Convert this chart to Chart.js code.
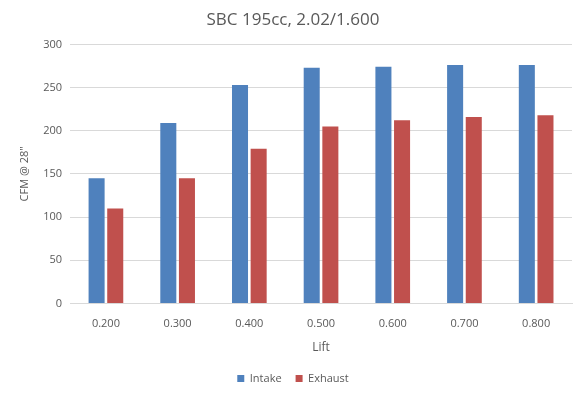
<!DOCTYPE html>
<html>
<head>
<meta charset="utf-8">
<script src="https://cdn.jsdelivr.net/npm/chart.js@4"></script>
<style>
  html, body { margin:0; padding:0; background:#fff; }
  #wrap { width:580px; height:400px; }
</style>
</head>
<body>
<div id="wrap"><canvas id="c"></canvas></div>
<script>
/* SBC 195cc flow chart */
const lifts = ['0.200','0.300','0.400','0.500','0.600','0.700','0.800'];
const intake = [145, 209, 253, 273, 274, 276, 276];
const exhaust = [110, 145, 179, 205, 212, 216, 218];

Chart.defaults.font.family = '"Open Sans", "Liberation Sans", Arial';
Chart.defaults.font.size = 11;
Chart.defaults.color = '#595959';

new Chart(document.getElementById('c'), {
  type: 'bar',
  data: { labels: lifts, datasets: [
    { label: 'Intake', data: intake, backgroundColor: '#4f81bd' },
    { label: 'Exhaust', data: exhaust, backgroundColor: '#c0504d' }
  ]},
  options: {
    responsive: true, maintainAspectRatio: false, animation: false,
    layout: { padding: { left: 14, right: 8, top: 4, bottom: 6 } },
    datasets: { bar: { categoryPercentage: 0.52, barPercentage: 0.86 } },
    plugins: {
      title: { display: true, text: 'SBC 195cc, 2.02/1.600', font: { size: 17, weight: 'normal' }, color: '#595959', padding: { top: 6, bottom: 14 } },
      legend: { position: 'bottom', labels: { boxWidth: 7, boxHeight: 7, padding: 14 } },
      tooltip: { enabled: false }
    },
    scales: {
      y: { min: 0, max: 300, ticks: { stepSize: 50, padding: 8 },
           grid: { color: '#d9d9d9', drawTicks: false }, border: { display: false },
           title: { display: true, text: 'CFM @ 28"', font: { size: 11 } } },
      x: { grid: { display: false }, border: { color: '#d9d9d9' }, ticks: { padding: 6 },
           title: { display: true, text: 'Lift', font: { size: 12 } } }
    }
  }
});
</script>
</body>
</html>
